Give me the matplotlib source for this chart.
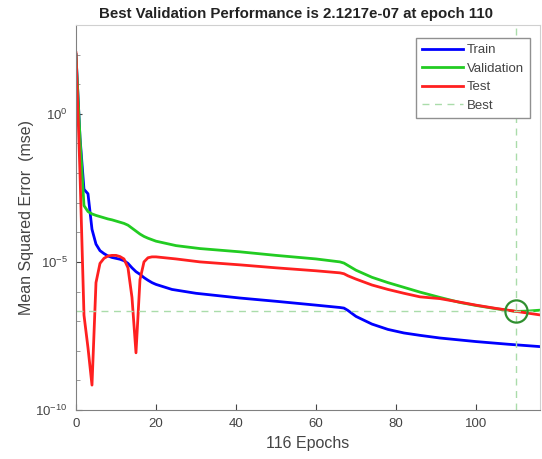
import numpy as np
import matplotlib
matplotlib.use("Agg")
import matplotlib.pyplot as plt
from matplotlib.ticker import NullFormatter

# --- data (log10 of mse) ---
train_ep = [0, 1, 2, 3, 4, 5, 6, 7, 8, 9, 10, 11, 12, 13, 14, 15, 16, 17, 18, 19, 20,
            24, 30, 41, 50, 60, 66, 67, 68, 70, 74, 78, 82, 86, 91, 100, 108, 116]
train_log = [2.0, -0.8, -2.55, -2.7, -3.9, -4.4, -4.62, -4.72, -4.8, -4.85, -4.88, -4.91,
             -4.96, -5.05, -5.2, -5.33, -5.42, -5.53, -5.62, -5.7, -5.76,
             -5.93, -6.06, -6.22, -6.33, -6.46, -6.54, -6.56, -6.64, -6.84, -7.1, -7.28,
             -7.4, -7.48, -7.57, -7.69, -7.78, -7.86]

val_ep = [0, 1, 2, 3, 4, 5, 6, 7, 8, 9, 10, 11, 12, 13, 14, 15, 16, 17, 18, 19, 20,
          25, 31, 41, 50, 60, 66, 67, 68, 70, 74, 78, 82, 86, 91, 96, 100, 105, 110, 113, 116]
val_log = [2.0, -0.8, -3.1, -3.3, -3.38, -3.43, -3.47, -3.51, -3.55, -3.58, -3.62, -3.66,
           -3.7, -3.76, -3.86, -3.96, -4.06, -4.14, -4.2, -4.25, -4.3,
           -4.45, -4.55, -4.66, -4.78, -4.9, -5.0, -5.04, -5.12, -5.28, -5.52, -5.7,
           -5.86, -6.02, -6.2, -6.37, -6.47, -6.58, -6.673, -6.66, -6.63]

test_ep = [0, 1, 2, 3, 4, 5, 6, 7, 8, 9, 10, 11, 12, 13, 14, 15, 16, 17, 18, 19, 20,
           25, 31, 41, 50, 60, 66, 67, 68, 70, 74, 78, 82, 86, 91, 96, 100, 105, 110, 116]
test_log = [2.06, -2.0, -6.8, -7.9, -9.16, -5.7, -5.05, -4.88, -4.8, -4.78, -4.78, -4.82,
            -4.9, -5.2, -6.2, -8.07, -5.6, -5.0, -4.86, -4.83, -4.83,
            -4.9, -5.0, -5.1, -5.2, -5.3, -5.37, -5.4, -5.47, -5.58, -5.78, -5.93,
            -6.06, -6.18, -6.24, -6.36, -6.46, -6.57, -6.67, -6.79]

best_epoch = 110
best_perf = 2.1217e-07
n_epochs = 116

# --- plot ---
plt.rcParams["font.family"] = ["Liberation Sans", "DejaVu Sans"]
plt.rcParams["mathtext.default"] = "regular"

fig = plt.figure(figsize=(5.42, 4.59), dpi=100)
ax = fig.add_axes([0.1402, 0.1068, 0.856, 0.8388])

ax.semilogy(train_ep, 10.0 ** np.array(train_log), color="#0000ff", lw=2, label="Train")
ax.semilogy(val_ep, 10.0 ** np.array(val_log), color="#22cc22", lw=2, label="Validation")
ax.semilogy(test_ep, 10.0 ** np.array(test_log), color="#ff2020", lw=2, label="Test")
ax.axhline(best_perf, color="#aadcaa", lw=1, ls=(0, (5, 4)), label="Best")
ax.axvline(best_epoch, color="#aadcaa", lw=1, ls=(0, (5, 4)))
ax.plot([best_epoch], [best_perf], "o", mfc="none", mec="#2f8f2f", mew=1.6, ms=16)

ax.set_xlim(0, n_epochs)
ax.set_ylim(1e-10, 1e3)
ax.set_xticks([0, 20, 40, 60, 80, 100])
ax.set_yticks([1e-10, 1e-5, 1e0])
ax.set_yticklabels(["$10^{-10}$", "$10^{-5}$", "$10^{0}$"])
ax.set_yticks([10.0 ** k for k in range(-9, 3) if k not in (-5, 0)], minor=True)
ax.yaxis.set_minor_formatter(NullFormatter())
ax.tick_params(direction="in", labelsize=9.5, colors="#444444", length=4, pad=6)
ax.tick_params(which="minor", direction="in", length=3, color="#888888")

for side in ("left", "bottom"):
    ax.spines[side].set_color("#808080")
for side in ("top", "right"):
    ax.spines[side].set_color("#d0d0d0")

ax.set_title("Best Validation Performance is 2.1217e-07 at epoch 110",
             fontsize=10.8, fontweight="bold", color="#222222", pad=5, x=0.474)
ax.set_xlabel("116 Epochs", fontsize=11.5, color="#444444", labelpad=4)
ax.set_ylabel("Mean Squared Error  (mse)", fontsize=11.5, color="#444444", labelpad=1)

leg = ax.legend(loc="upper right", fontsize=9.5, handlelength=3.1, handletextpad=0.3,
                fancybox=False, framealpha=1, edgecolor="#909090", borderpad=0.45,
                labelspacing=0.48, borderaxespad=0, bbox_to_anchor=(0.978, 0.966))
for t in leg.get_texts():
    t.set_color("#444444")

fig.savefig("out.png", dpi=100)
